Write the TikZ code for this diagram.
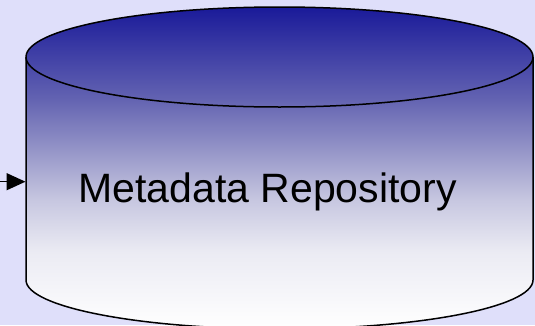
\documentclass[tikz,border=0pt]{standalone}
\usepackage{fontspec}
\setmainfont{Liberation Sans}
\usetikzlibrary{arrows.meta}
\definecolor{bgcol}{RGB}{223,223,250}
\definecolor{cA}{RGB}{26,26,153}
\definecolor{cB}{RGB}{100,100,178}
\definecolor{cC}{RGB}{150,150,200}
\definecolor{cD}{RGB}{200,200,225}
\definecolor{cE}{RGB}{235,235,243}
\pgfdeclareverticalshading{cylshade}{100bp}{color(0bp)=(white); color(25bp)=(white); color(37bp)=(cE); color(44.8bp)=(cD); color(52.7bp)=(cC); color(60.5bp)=(cB); color(75bp)=(cA); color(100bp)=(cA)}
\tikzset{
  outline/.style={draw=black, line width=1.5pt},
  label/.style={font=\fontsize{41}{45}\selectfont, text=black, inner sep=0pt, anchor=base},
  feed/.style={draw=black, line width=1.5pt, -{Triangle[length=19pt,width=17pt]}}
}
\begin{document}
\begin{tikzpicture}[x=1pt,y=1pt]
\useasboundingbox (0,0) rectangle (535,325);
\clip (0,0) rectangle (535,325);
\fill[bgcol] (0,0) rectangle (535,325);
% cylinder body with top
\path[outline, shading=cylshade]
  (26,268) arc[start angle=180, end angle=0, x radius=253.5, y radius=50]
  -- (533,45) arc[start angle=0, end angle=-180, x radius=253.5, y radius=49]
  -- cycle;
% front rim of the top ellipse
\draw[outline] (26,268) arc[start angle=180, end angle=360, x radius=253.5, y radius=50];
\node[label] (lbl) at (267.5,123) {Metadata Repository};
\coordinate (src) at (-10,143.3);
\coordinate (cylleft) at (25.5,143.3);
\draw[feed] (src) -- (cylleft);
\end{tikzpicture}
\end{document}
